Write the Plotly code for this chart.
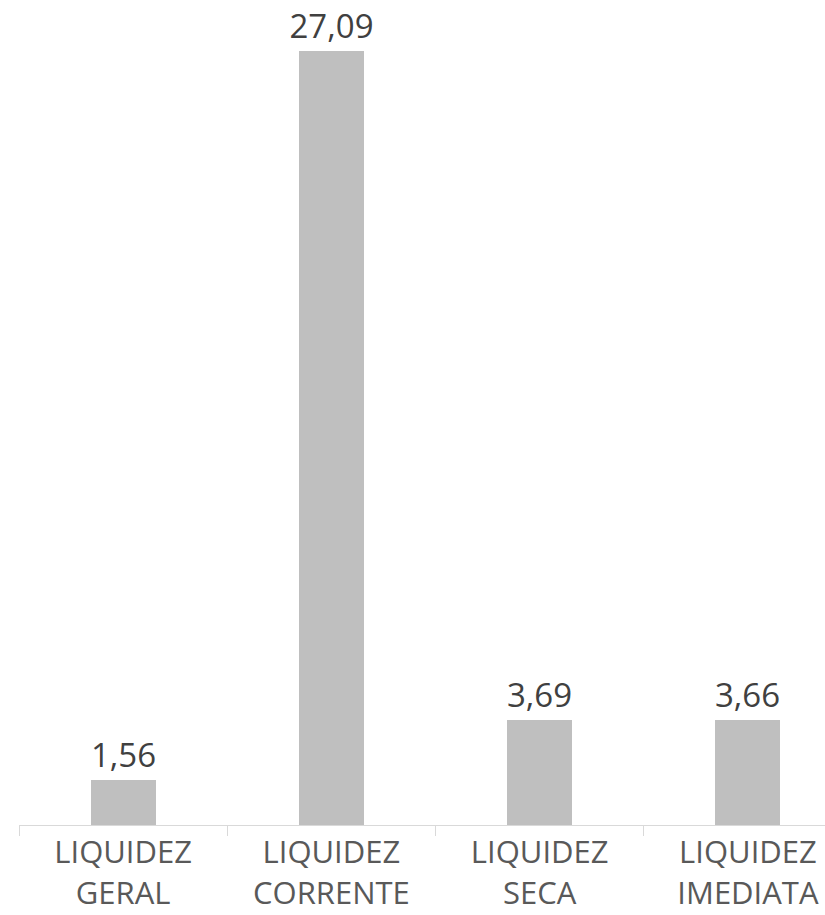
import plotly.graph_objects as go

categories = ["LIQUIDEZ<br>GERAL", "LIQUIDEZ<br>CORRENTE", "LIQUIDEZ<br>SECA", "LIQUIDEZ<br>IMEDIATA"]
values = [1.56, 27.09, 3.69, 3.66]

fig = go.Figure(go.Bar(
    x=categories, y=values,
    marker=dict(color="#bfbfbf", line=dict(width=0)),
    width=0.3125,
    text=[f"{v:.2f}".replace(".", ",") for v in values],
    textposition="outside",
    constraintext="none",
    textfont=dict(family="Open Sans", size=33, color="#404040"),
    cliponaxis=False,
    hoverinfo="skip",
))

fig.update_layout(
    width=825, height=915,
    margin=dict(l=19, r=0, t=0, b=90),
    plot_bgcolor="white", paper_bgcolor="white",
    showlegend=False,
    bargap=0,
    xaxis=dict(
        range=[-0.5, 3.37],
        showline=True, linecolor="#d9d9d9", linewidth=1,
        ticks="outside", tickson="boundaries", ticklen=10, tickcolor="#d9d9d9",
        tickfont=dict(family="Open Sans", size=31, color="#595959"),
        showgrid=False, automargin=False,
    ),
    yaxis=dict(range=[0, 28.88], visible=False, showgrid=False, zeroline=False),
)

fig.write_html(
    "out.html",
    config={"displayModeBar": False},
    post_script="document.body.style.margin='0';document.body.style.overflow='hidden';",
)
